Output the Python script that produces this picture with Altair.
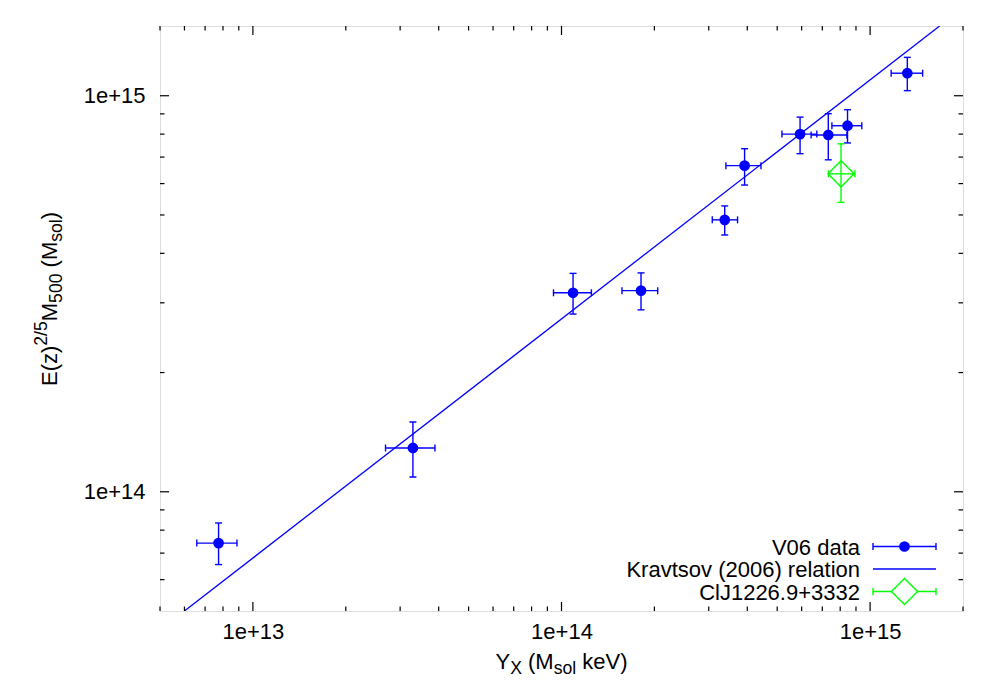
import altair as alt
import pandas as pd

# ---------------- data ----------------
yx     = [7.74e12, 3.30e13, 1.09e14, 1.81e14, 3.38e14, 3.92e14, 5.93e14, 7.32e14, 8.45e14, 1.32e15]
yx_lo  = [6.58e12, 2.69e13, 9.42e13, 1.57e14, 3.08e14, 3.41e14, 5.18e14, 6.44e14, 7.52e14, 1.17e15]
yx_hi  = [8.88e12, 3.89e13, 1.25e14, 2.05e14, 3.72e14, 4.43e14, 6.72e14, 8.41e14, 9.40e14, 1.48e15]
m500   = [7.42e13, 1.29e14, 3.18e14, 3.22e14, 4.86e14, 6.66e14, 8.00e14, 7.96e14, 8.40e14, 1.14e15]
m500_lo = [6.55e13, 1.09e14, 2.81e14, 2.88e14, 4.45e14, 5.95e14, 7.14e14, 6.89e14, 7.60e14, 1.03e15]
m500_hi = [8.34e13, 1.50e14, 3.56e14, 3.57e14, 5.27e14, 7.35e14, 8.83e14, 9.01e14, 9.22e14, 1.25e15]

cl_yx, cl_yx_lo, cl_yx_hi = [8.05e14], [7.33e14], [8.93e14]
cl_m, cl_m_lo, cl_m_hi = [6.35e14], [5.38e14], [7.56e14]

rel_x = [6.0e12, 1.68e15]
rel_y = [5.0e13, 1.5e15]

x_major = [1e13, 1e14, 1e15]
x_minor = [5e12, 6e12, 7e12, 8e12, 9e12,
           2e13, 3e13, 4e13, 5e13, 6e13, 7e13, 8e13, 9e13,
           2e14, 3e14, 4e14, 5e14, 6e14, 7e14, 8e14, 9e14, 2e15]
y_major = [1e14, 1e15]
y_minor = [6e13, 7e13, 8e13, 9e13,
           2e14, 3e14, 4e14, 5e14, 6e14, 7e14, 8e14, 9e14]

legend_labels = ["V06 data", "Kravtsov (2006) relation", "ClJ1226.9+3332"]

# ---------------- style ----------------
W, H = 803, 585
FONT = "Liberation Sans"
FS = 22
SMALL = FS * 0.8
BLUE = "#0000ff"
GREEN = "#00ff00"
LW = 1.4
CAP = 7

xscale = alt.Scale(type="log", domain=[5e12, 2e15], nice=False)
yscale = alt.Scale(type="log", domain=[5e13, 1.5e15], nice=False)

xaxis = alt.Axis(values=x_major, format=".0e", ticks=False, tickSize=0, grid=False,
                 domain=False, labelFont=FONT, labelFontSize=FS, labelColor="black",
                 labelPadding=10, title=None, labelFlush=False, labelOverlap=False)
yaxis = alt.Axis(values=y_major, format=".0e", ticks=False, tickSize=0, grid=False,
                 domain=False, labelFont=FONT, labelFontSize=FS, labelColor="black",
                 labelPadding=15, title=None, labelOverlap=False)

pts = pd.DataFrame({"yx": yx, "yx_lo": yx_lo, "yx_hi": yx_hi,
                    "m": m500, "m_lo": m500_lo, "m_hi": m500_hi})
cl = pd.DataFrame({"yx": cl_yx, "yx_lo": cl_yx_lo, "yx_hi": cl_yx_hi,
                   "m": cl_m, "m_lo": cl_m_lo, "m_hi": cl_m_hi})
rel = pd.DataFrame({"x": rel_x, "y": rel_y})


def X(f):
    return alt.X(f, type="quantitative", scale=xscale, axis=xaxis)


def Y(f):
    return alt.Y(f, type="quantitative", scale=yscale, axis=yaxis)


def errbars(df, color):
    base = alt.Chart(df)
    v = base.mark_rule(color=color, strokeWidth=LW).encode(x=X("yx"), y=Y("m_lo"), y2="m_hi")
    h = base.mark_rule(color=color, strokeWidth=LW).encode(y=Y("m"), x=X("yx_lo"), x2="yx_hi")
    c1 = base.mark_tick(orient="horizontal", color=color, size=CAP, thickness=LW, opacity=1).encode(x=X("yx"), y=Y("m_lo"))
    c2 = base.mark_tick(orient="horizontal", color=color, size=CAP, thickness=LW, opacity=1).encode(x=X("yx"), y=Y("m_hi"))
    c3 = base.mark_tick(orient="vertical", color=color, size=CAP, thickness=LW, opacity=1).encode(x=X("yx_lo"), y=Y("m"))
    c4 = base.mark_tick(orient="vertical", color=color, size=CAP, thickness=LW, opacity=1).encode(x=X("yx_hi"), y=Y("m"))
    return [v, h, c1, c2, c3, c4]


layers = []
layers.append(alt.Chart(rel).mark_line(color=BLUE, strokeWidth=1.3, clip=True).encode(
    x=X("x"), y=Y("y")))
layers += errbars(pts, BLUE)
layers.append(alt.Chart(pts).mark_circle(color=BLUE, size=115, opacity=1).encode(x=X("yx"), y=Y("m")))
layers += errbars(cl, GREEN)
layers.append(alt.Chart(cl).mark_point(shape="diamond", filled=False, color=GREEN, size=680,
                                       strokeWidth=LW, opacity=1).encode(x=X("yx"), y=Y("m")))


# inward ticks on all four sides
def xticks(vals, length):
    d = pd.DataFrame({"v": vals})
    b = alt.Chart(d).mark_rule(color="black", strokeWidth=1.2).encode(
        x=X("v"), y=alt.value(H), y2=alt.value(H - length))
    t = alt.Chart(d).mark_rule(color="black", strokeWidth=1.2).encode(
        x=X("v"), y=alt.value(0), y2=alt.value(length))
    return [b, t]


def yticks(vals, length):
    d = pd.DataFrame({"v": vals})
    l = alt.Chart(d).mark_rule(color="black", strokeWidth=1.2).encode(
        y=Y("v"), x=alt.value(0), x2=alt.value(length))
    r = alt.Chart(d).mark_rule(color="black", strokeWidth=1.2).encode(
        y=Y("v"), x=alt.value(W), x2=alt.value(W - length))
    return [l, r]


layers += xticks(x_major, 9) + xticks(x_minor, 4.5) + yticks(y_major, 9) + yticks(y_minor, 4.5)

# ---------------- legend ----------------
LX_TEXT = 700
LX0, LX1, LXC = 713, 776, 744.5
rows = [520.5, 543, 565.5]
for lab, ry in zip(legend_labels, rows):
    layers.append(alt.Chart(pd.DataFrame({"t": [lab]})).mark_text(
        align="right", baseline="middle", font=FONT, fontSize=FS, color="black").encode(
        text="t:N", x=alt.value(LX_TEXT), y=alt.value(ry + 1)))


def one():
    return alt.Chart(pd.DataFrame({"a": [0]}))


def leg_rule(ry, color):
    return one().mark_rule(color=color, strokeWidth=LW).encode(
        x=alt.value(LX0), x2=alt.value(LX1), y=alt.value(ry))


def leg_caps(ry, color):
    return [one().mark_rule(color=color, strokeWidth=LW).encode(
        x=alt.value(xx), y=alt.value(ry - CAP / 2), y2=alt.value(ry + CAP / 2)) for xx in (LX0, LX1)]


layers += [leg_rule(rows[0], BLUE)] + leg_caps(rows[0], BLUE)
layers.append(one().mark_point(shape="circle", filled=True, color=BLUE, size=115, opacity=1).encode(
    x=alt.value(LXC), y=alt.value(rows[0])))
layers.append(leg_rule(rows[1], BLUE))
layers += [leg_rule(rows[2], GREEN)] + leg_caps(rows[2], GREEN)
layers.append(one().mark_point(shape="diamond", filled=False, fill="white", fillOpacity=1, stroke=GREEN,
                               size=680, strokeWidth=LW, opacity=1).encode(
    x=alt.value(LXC), y=alt.value(rows[2])))

# ---------------- axis titles with sub/superscripts ----------------
CW = {' ': 278, '(': 333, ')': 333, '/': 278, '0': 556, '2': 556, '5': 556, 'E': 667,
      'M': 833, 'X': 667, 'Y': 667, 'z': 500, 's': 500, 'o': 556, 'l': 222, 'k': 500,
      'e': 556, 'V': 667}


def layout(segs):
    pos, out = 0.0, []
    for txt, kind in segs:
        size = FS if kind == "main" else SMALL
        lead = len(txt) - len(txt.lstrip(" "))
        out.append((txt.lstrip(" "), kind, pos + lead * CW[' '] / 1000 * size, size))
        pos += sum(CW[c] for c in txt) / 1000 * size
    return out, pos


SHIFT = {"main": 0, "sub": 5, "sup": -10}

xt_segs = [("Y", "main"), ("X", "sub"), (" (M", "main"), ("sol", "sub"), (" keV)", "main")]
xt, xt_len = layout(xt_segs)
x0 = W / 2 - xt_len / 2
XT_BASE = 643
for txt, kind, pos, size in xt:
    layers.append(alt.Chart(pd.DataFrame({"t": [txt]})).mark_text(
        align="left", baseline="alphabetic", font=FONT, fontSize=size, color="black").encode(
        text="t:N", x=alt.value(x0 + pos), y=alt.value(XT_BASE + SHIFT[kind])))

yt_segs = [("E(z)", "main"), ("2/5", "sup"), ("M", "main"), ("500", "sub"),
           (" (M", "main"), ("sol", "sub"), (")", "main")]
yt, yt_len = layout(yt_segs)
Y_START = 360
YT_BASE = -103
for txt, kind, pos, size in yt:
    layers.append(alt.Chart(pd.DataFrame({"t": [txt]})).mark_text(
        align="left", baseline="alphabetic", angle=270, font=FONT, fontSize=size, color="black").encode(
        text="t:N", x=alt.value(YT_BASE + SHIFT[kind]), y=alt.value(Y_START - pos)))

chart = alt.layer(*layers).properties(
    width=W, height=H,
    autosize=alt.AutoSizeParams(type="none"),
    padding={"left": 152, "top": 18, "right": 20, "bottom": 80},
).configure_view(stroke="black", strokeWidth=1.3).configure(background="white")

chart.save("out.html", embed_options={"renderer": "svg", "actions": False})
